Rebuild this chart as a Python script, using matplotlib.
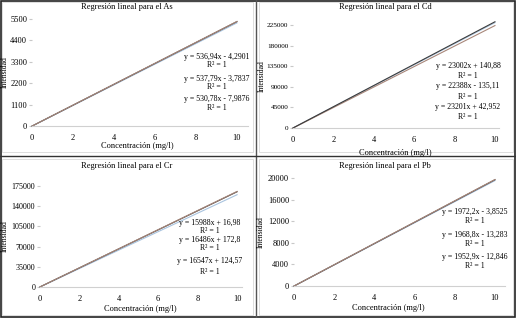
import matplotlib
matplotlib.use('Agg')
import matplotlib.pyplot as plt
from matplotlib.lines import Line2D
from matplotlib.patches import Rectangle

plt.rcParams['font.family'] = ['Liberation Serif', 'DejaVu Serif']

W, H = 516, 318

## concentraciones de los patrones (mg/l)
conc = [0, 2, 4, 6, 8, 10]

## intensidades, tres series por elemento
as_s1 = [-8, 1054, 2115, 3177, 4238, 5300]
as_s2 = [-4, 1072, 2147, 3223, 4298, 5374]
as_s3 = [-4, 1070, 2144, 3217, 4291, 5365]
cd_s1 = [141, 46145, 92149, 138153, 184157, 230161]
cd_s2 = [-135, 44641, 89417, 134193, 178969, 223745]
cd_s3 = [43, 46445, 92847, 139249, 185651, 232053]
cr_s1 = [17, 31993, 63969, 95945, 127921, 159897]
cr_s2 = [173, 33145, 66117, 99089, 132061, 165033]
cr_s3 = [125, 33219, 66313, 99407, 132501, 165595]
pb_s1 = [-4, 3941, 7885, 11829, 15774, 19718]
pb_s2 = [-13, 3924, 7862, 11800, 15738, 19675]
pb_s3 = [-13, 3893, 7799, 11705, 15610, 19516]

as_eqs = ['y = 536,94x - 4,2901', 'y = 537,79x - 3,7837', 'y = 530,78x - 7,9876']
cd_eqs = ['y = 23002x + 140,88', 'y = 22388x - 135,11', 'y = 23201x + 42,952']
cr_eqs = ['y = 15988x + 16,98', 'y = 16486x + 172,8', 'y = 16547x + 124,57']
pb_eqs = ['y = 1972,2x - 3,8525', 'y = 1968,8x - 13,283', 'y = 1952,9x - 12,846']

as_ticks = [0, 1100, 2200, 3300, 4400, 5500]
cd_ticks = [0, 45000, 90000, 135000, 180000, 225000]
cr_ticks = [0, 35000, 70000, 105000, 140000, 175000]
pb_ticks = [0, 4000, 8000, 12000, 16000, 20000]

BLUE, BROWN, DARK = '#a9c4df', '#a8877a', '#3c3c3c'

fig = plt.figure(figsize=(W / 100, H / 100), dpi=100)

def px(x, y):
    return x / W, 1 - y / H

def panel(box, xmax, series, cols, eqs, yticks, title, tpos, xlpos, ylpos, eqpos, yfs=6):
    l, t, r, b = box
    ax = fig.add_axes([l / W, 1 - b / H, (r - l) / W, (b - t) / H])
    for s, c in zip(series, cols):
        ax.plot(conc, s, color=c, lw=0.8, clip_on=False)
    ax.set_xlim(0, xmax)
    ax.set_ylim(0, yticks[-1])
    ax.set_xticks([0, 2, 4, 6, 8, 10])
    ax.set_yticks(yticks)
    ax.tick_params(axis='x', labelsize=6, length=0, pad=6)
    ax.tick_params(axis='y', labelsize=yfs, length=2, pad=1.5, color='#c8c8c8')
    for sp in ['top', 'right', 'left']:
        ax.spines[sp].set_visible(False)
    ax.spines['bottom'].set_color('#d0d0d0')
    ax.spines['bottom'].set_linewidth(0.8)
    fig.text(*px(*tpos), title, ha='center', va='center', fontsize=6)
    fig.text(*px(*xlpos), 'Concentración (mg/l)', ha='center', va='center', fontsize=6)
    fig.text(*px(*ylpos), 'Intensidad', ha='center', va='center', fontsize=5.5, rotation=90)
    x0, ys = eqpos
    for i, e in enumerate(eqs):
        fig.text(*px(x0, ys[2 * i]), e, ha='center', va='center', fontsize=5.6)
        fig.text(*px(x0, ys[2 * i + 1]), 'R² = 1', ha='center', va='center', fontsize=5.6)
    return ax

panel((32, 19, 248, 126), 10.54, [as_s1, as_s3, as_s2], [BLUE, DARK, BROWN], as_eqs, as_ticks,
      'Regresión lineal para el As', (127, 7), (137, 146), (5, 72),
      (217, [57, 65, 79, 87, 99, 108]))
panel((293, 25, 499, 128), 10.2, [cd_s1, cd_s2, cd_s3], [BLUE, BROWN, DARK], cd_eqs, cd_ticks,
      'Regresión lineal para el Cd', (385, 7), (395, 153), (262, 76),
      (468, [66, 76, 86, 97, 107, 117]), yfs=5.2)
panel((40, 186, 242, 287), 10.25, [cr_s1, cr_s2, cr_s3], [BLUE, DARK, BROWN], cr_eqs, cr_ticks,
      'Regresión lineal para el Cr', (127, 166), (140, 309), (5, 236),
      (210, [223, 231, 240, 248, 261, 272]), yfs=5.8)
panel((294, 178, 505, 286), 10.5, [pb_s3, pb_s2, pb_s1], [BLUE, DARK, BROWN], pb_eqs, pb_ticks,
      'Regresión lineal para el Pb', (385, 166), (388, 308), (261, 232),
      (475, [212, 221, 235, 244, 257, 266]))

## bordes de los graficos
for (x, y, w, h) in [(2, 2, 251, 150), (259, 2, 254, 150), (2, 159, 251, 156), (259, 159, 254, 156)]:
    fig.add_artist(Rectangle(px(x, y + h), w / W, h / H, fill=False,
                             ec='#d8d8d8', lw=0.6, transform=fig.transFigure))
fig.add_artist(Rectangle((0.001, 0.002), 0.997, 0.996, fill=False, ec='#222222', lw=1.2,
                         transform=fig.transFigure))
fig.add_artist(Line2D([256 / W, 256 / W], [0, 1], color='#555555', lw=1.0))
fig.add_artist(Line2D([0, 1], [1 - 156 / H, 1 - 156 / H], color='#333333', lw=1.0))

fig.savefig('out.png', dpi=100)
